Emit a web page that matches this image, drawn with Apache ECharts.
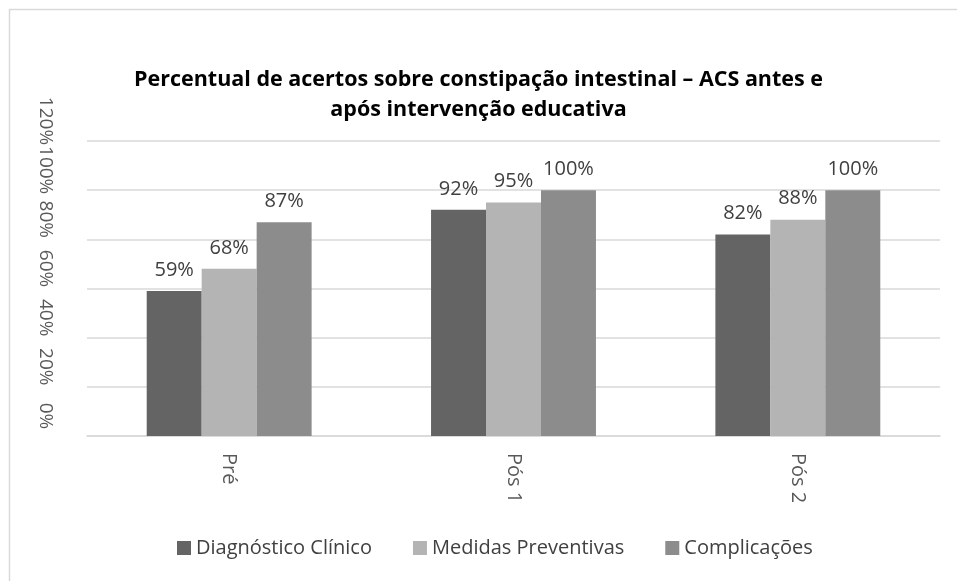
<!DOCTYPE html>
<html>
<head>
<meta charset="utf-8">
<script src="https://cdn.jsdelivr.net/npm/echarts@6/dist/echarts.min.js"></script>
<style>
  html, body { margin: 0; padding: 0; background: #fff; }
  #chart { width: 957px; height: 581px; }
</style>
</head>
<body>
<div id="chart"></div>
<script>
var categories = ['Pré', 'Pós 1', 'Pós 2'];
var seriesNames = ['Diagnóstico Clínico', 'Medidas Preventivas', 'Complicações'];
var diagnostico = [59, 92, 82];
var medidas = [68, 95, 88];
var complicacoes = [87, 100, 100];
var yTicks = [0, 20, 40, 60, 80, 100, 120];

var colors = ['#646464', '#b4b4b4', '#8c8c8c'];
var fontFam = '"Open Sans", "Noto Sans", sans-serif';

var myChart = echarts.init(document.getElementById('chart'));

function makeSeries(name, values, color) {
    return {
        type: 'bar',
        name: name,
        data: values,
        barGap: '0%',
        barCategoryGap: '42%',
        itemStyle: { color: color },
        label: {
            show: true,
            position: 'top',
            distance: 11,
            formatter: '{c}%',
            color: '#404040',
            fontSize: 20,
            fontFamily: fontFam
        }
    };
}

var option = {
    animation: false,
    backgroundColor: '#fff',
    color: colors,
    title: {
        text: 'Percentual de acertos sobre constipação intestinal – ACS antes e\napós intervenção educativa',
        left: 'center',
        top: 60,
        textStyle: {
            fontSize: 21.5,
            fontWeight: 'bold',
            color: '#000',
            lineHeight: 30,
            fontFamily: fontFam
        }
    },
    graphic: [{
        type: 'rect',
        shape: { x: 9.5, y: 9.5, width: 960, height: 600 },
        style: { fill: 'none', stroke: '#d9d9d9', lineWidth: 1.5 },
        silent: true
    }],
    legend: {
        bottom: 18,
        left: 172,
        itemWidth: 14,
        itemHeight: 14,
        itemGap: 41,
        icon: 'rect',
        textStyle: { color: '#404040', fontSize: 20, fontFamily: fontFam },
        data: seriesNames
    },
    grid: { left: 87, right: 17, top: 141, bottom: 145 },
    xAxis: {
        type: 'category',
        data: categories,
        axisLine: { lineStyle: { color: '#d9d9d9', width: 1.5 } },
        axisTick: { show: false },
        axisLabel: {
            rotate: -90,
            margin: 17,
            color: '#595959',
            fontSize: 20,
            fontFamily: fontFam
        }
    },
    yAxis: {
        type: 'value',
        min: 0,
        max: 120,
        interval: 20,
        axisLine: { show: false },
        axisTick: { show: false },
        splitLine: { lineStyle: { color: '#d9d9d9', width: 1.5 } },
        axisLabel: {
            rotate: -90,
            margin: 32,
            padding: [0, 40, 0, 0],
            color: '#595959',
            fontSize: 19,
            fontFamily: fontFam,
            formatter: function (v) { return yTicks.indexOf(v) >= 0 ? v + '%' : ''; }
        }
    },
    series: [
        makeSeries(seriesNames[0], diagnostico, colors[0]),
        makeSeries(seriesNames[1], medidas, colors[1]),
        makeSeries(seriesNames[2], complicacoes, colors[2])
    ]
};

myChart.setOption(option);
</script>
</body>
</html>
